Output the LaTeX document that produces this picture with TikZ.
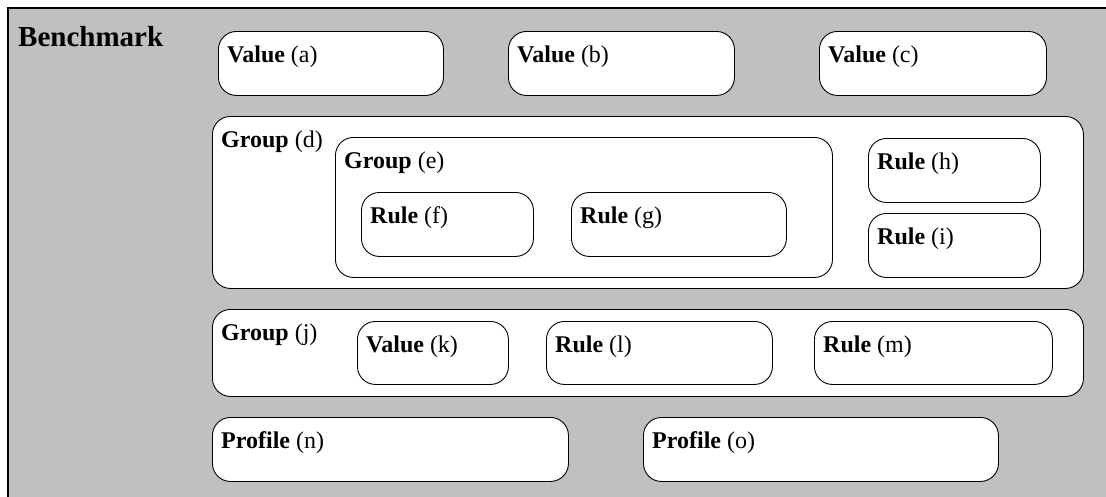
\documentclass[tikz,border=0pt]{standalone}
\usepackage{fontspec}
\setmainfont{Liberation Serif}
\definecolor{bggray}{RGB}{192,192,192}
\begin{document}
\begin{tikzpicture}[x=1pt,y=-1pt,
  box/.style={draw=black, line width=0.9pt, fill=white, rounded corners=18pt, inner sep=0pt, anchor=north west},
  lbl/.style={anchor=base west, inner sep=0pt, font=\fontsize{24}{28}\selectfont},
  ttl/.style={anchor=base west, inner sep=0pt, font=\fontsize{29}{33}\selectfont\bfseries}]
\useasboundingbox (0,0) rectangle (1106,496);
\begin{scope}
\clip (0,0) rectangle (1106,496);
\draw[fill=bggray, line width=1.6pt] (8,8) rectangle (1120,510);
\end{scope}
\node[ttl] (bench) at (18,46) {Benchmark};
\foreach \n/\xa/\ya/\xb/\yb/\kind/\lt in {
  a/218/31/443/95/Value/a,
  b/508/31/734/95/Value/b,
  c/819/31/1046/95/Value/c,
  d/212/116/1083/288/Group/d,
  e/335/137/832/277/Group/e,
  f/361/192/533/256/Rule/f,
  g/571/192/786/256/Rule/g,
  h/868/138/1040/202/Rule/h,
  i/868/213/1040/277/Rule/i,
  j/212/309/1083/396/Group/j,
  k/357/321/508/384/Value/k,
  l/546/321/772/384/Rule/l,
  m/814/321/1052/384/Rule/m,
  n/212/417/568/481/Profile/n,
  o/643/417/998/481/Profile/o}{
  \node[box, minimum width={\xb-\xa}, minimum height={\yb-\ya}] (\n) at (\xa,\ya) {};
  \node[lbl] (\n-t) at ([xshift=9pt,yshift=-31pt]\n.north west) {\textbf{\kind} (\lt)};
}
\end{tikzpicture}
\end{document}
